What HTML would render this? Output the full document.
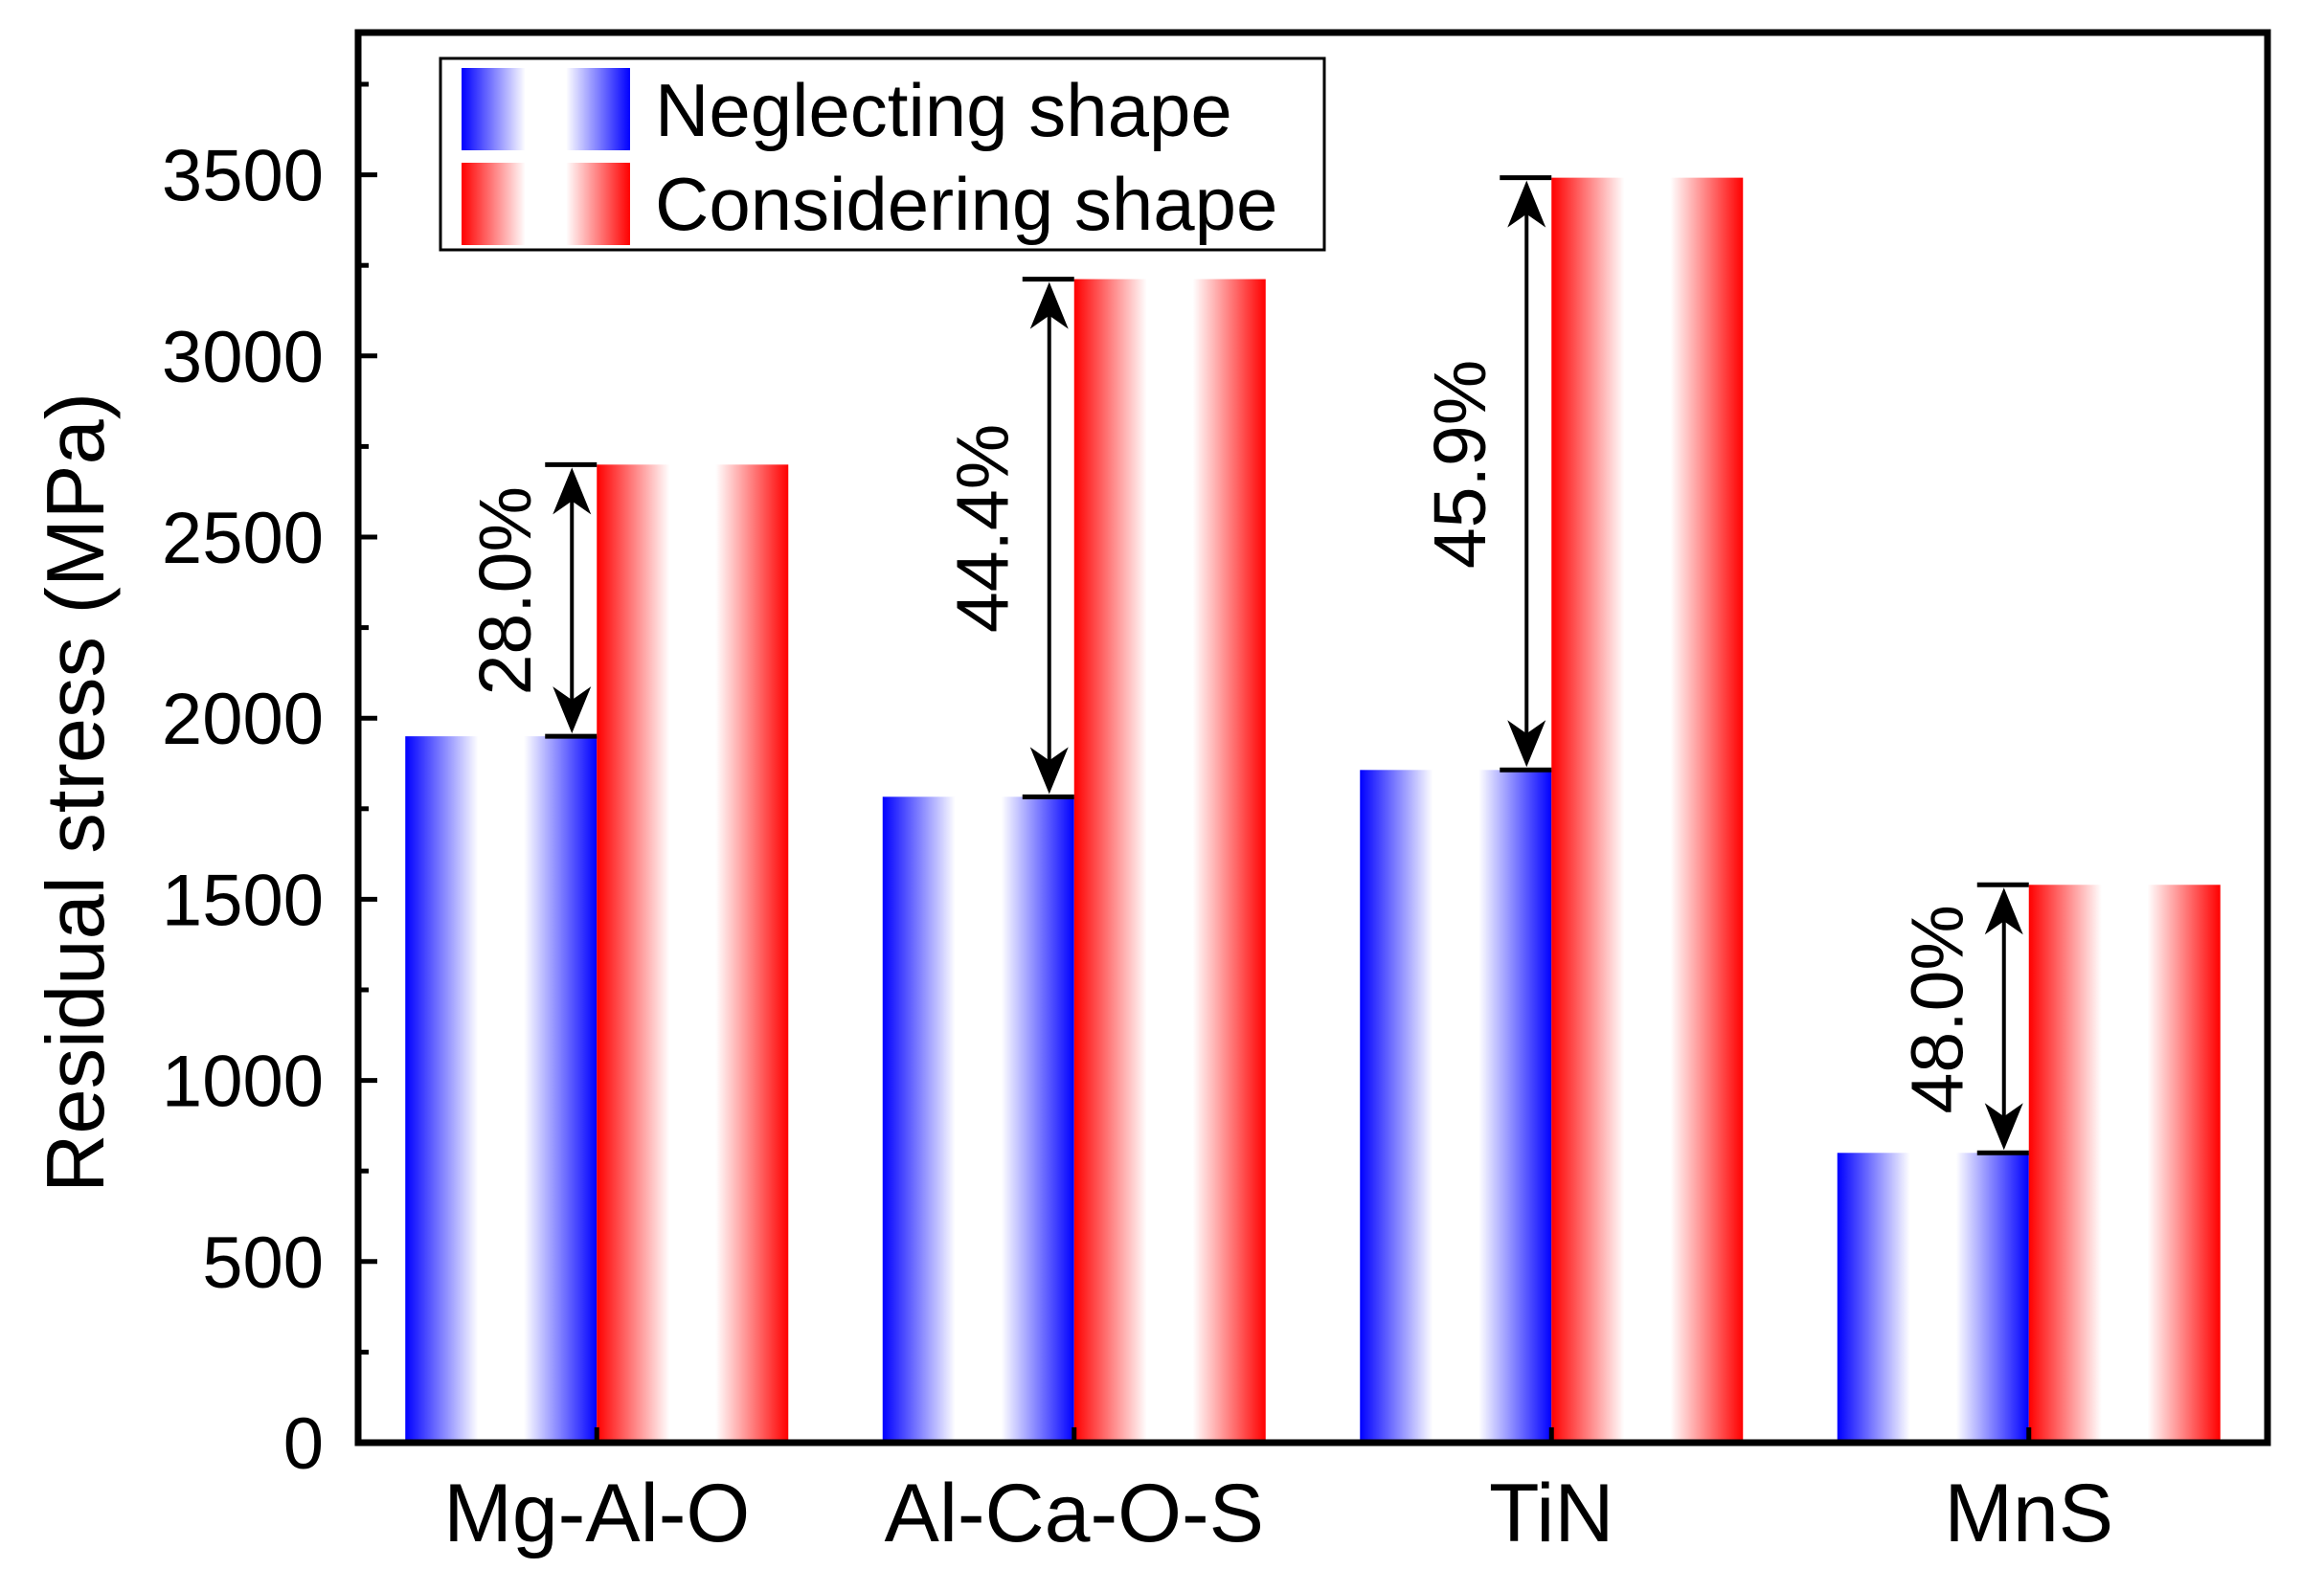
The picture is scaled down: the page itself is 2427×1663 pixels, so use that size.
<!DOCTYPE html>
<html><head><meta charset="utf-8"><style>
html,body{margin:0;padding:0;background:#fff;}
svg{display:block;font-family:"Liberation Sans",Arial,sans-serif;}
</style></head><body>
<svg id="chart" width="2427" height="1663" viewBox="0 0 2427 1663" xmlns="http://www.w3.org/2000/svg">
<defs>
<linearGradient id="gb" x1="0" x2="1" y1="0" y2="0">
<stop offset="0" stop-color="#0000ff"/><stop offset="0.38" stop-color="#ffffff"/><stop offset="0.62" stop-color="#ffffff"/><stop offset="1" stop-color="#0000ff"/>
</linearGradient>
<linearGradient id="gr" x1="0" x2="1" y1="0" y2="0">
<stop offset="0" stop-color="#ff0000"/><stop offset="0.38" stop-color="#ffffff"/><stop offset="0.62" stop-color="#ffffff"/><stop offset="1" stop-color="#ff0000"/>
</linearGradient>
</defs>
<g id="plot"></g>
</svg>
<script>
const categories = ["Mg-Al-O","Al-Ca-O-S","TiN","MnS"];
const neglecting = [1950, 1783, 1857, 800];
const considering = [2700, 3212, 3492, 1540];
const percentLabels = ["28.0%","44.4%","45.9%","48.0%"];
const yTicks = [0,500,1000,1500,2000,2500,3000,3500];

const NS = "http://www.w3.org/2000/svg";
const g = document.getElementById("plot");
const L = 374, R = 2368, T = 34, B = 1507;
const yMin = 0, yMax = (B - T) / (189.2 / 500);
function y(v){ return B - (v - yMin) / (yMax - yMin) * (B - T); }
function x(i){ return L + (i + 0.5) / categories.length * (R - L); }
const barW = 200;
function el(tag, attrs, txt){
  const e = document.createElementNS(NS, tag);
  for (const k in attrs) e.setAttribute(k, attrs[k]);
  if (txt !== undefined) e.textContent = txt;
  g.appendChild(e);
  return e;
}

categories.forEach((c, i) => {
  const cx = x(i);
  const b = el("rect", {x: cx - barW, y: y(neglecting[i]), width: barW, height: y(0) - y(neglecting[i]), fill: "url(#gb)"});
  
  
  const r = el("rect", {x: cx, y: y(considering[i]), width: barW, height: y(0) - y(considering[i]), fill: "url(#gr)"});
  
  
  const t = el("line", {x1: cx, x2: cx, y1: B, y2: B - 16, stroke: "#000", "stroke-width": 5});
  
  
  const lab = el("text", {x: cx, y: 1610, "font-size": 86, "text-anchor": "middle"}, c);
  
  

  const ax = cx - 26, yt = y(considering[i]), yb = y(neglecting[i]);
  const ann = document.createElementNS(NS, "g");
  
  
  g.appendChild(ann);
  const add = (tag, a, txt) => { const e = el(tag, a, txt); ann.appendChild(e); return e; };
  add("line", {x1: ax - 28, x2: cx, y1: yt, y2: yt, stroke: "#000", "stroke-width": 5});
  add("line", {x1: ax - 28, x2: cx, y1: yb, y2: yb, stroke: "#000", "stroke-width": 5});
  add("line", {x1: ax, x2: ax, y1: yt + 10, y2: yb - 10, stroke: "#000", "stroke-width": 4});
  add("path", {d: `M${ax},${yt+3} L${ax-20},${yt+52} L${ax},${yt+38} L${ax+20},${yt+52} Z`, fill: "#000"});
  add("path", {d: `M${ax},${yb-3} L${ax-20},${yb-52} L${ax},${yb-38} L${ax+20},${yb-52} Z`, fill: "#000"});
  const my = (yt + yb) / 2 - 10, tx = cx - 95;
  const pt = add("text", {x: tx, y: my, "font-size": 77, "text-anchor": "middle", "dominant-baseline": "central", transform: `rotate(-90 ${tx} ${my})`}, percentLabels[i]);
  
  
});

for (let v = 0; v <= yMax; v += 250) {
  const major = v % 500 === 0;
  const tk = el("line", {x1: L, x2: L + (major ? 20 : 11), y1: y(v), y2: y(v), stroke: "#000", "stroke-width": 5});
  
  
}
yTicks.forEach(v => {
  const t = el("text", {x: 338, y: y(v) + 27, "font-size": 76, "text-anchor": "end"}, String(v));
  
  
});

const fr = el("rect", {x: L, y: T, width: R - L, height: B - T, fill: "none", stroke: "#000", "stroke-width": 7});



const yt = el("text", {x: 0, y: 0, "font-size": 85, "text-anchor": "middle", transform: "translate(108 828) rotate(-90)"}, "Residual stress (MPa)");



const lg = el("rect", {x: 460, y: 61, width: 923, height: 200, fill: "#fff", stroke: "#000", "stroke-width": 3});


const s1 = el("rect", {x: 482, y: 71, width: 176, height: 86, fill: "url(#gb)"});


const s2 = el("rect", {x: 482, y: 170, width: 176, height: 86, fill: "url(#gr)"});


const l1 = el("text", {x: 684, y: 142, "font-size": 78}, "Neglecting shape");


const l2 = el("text", {x: 684, y: 240, "font-size": 78}, "Considering shape");


</script>
</body></html>
